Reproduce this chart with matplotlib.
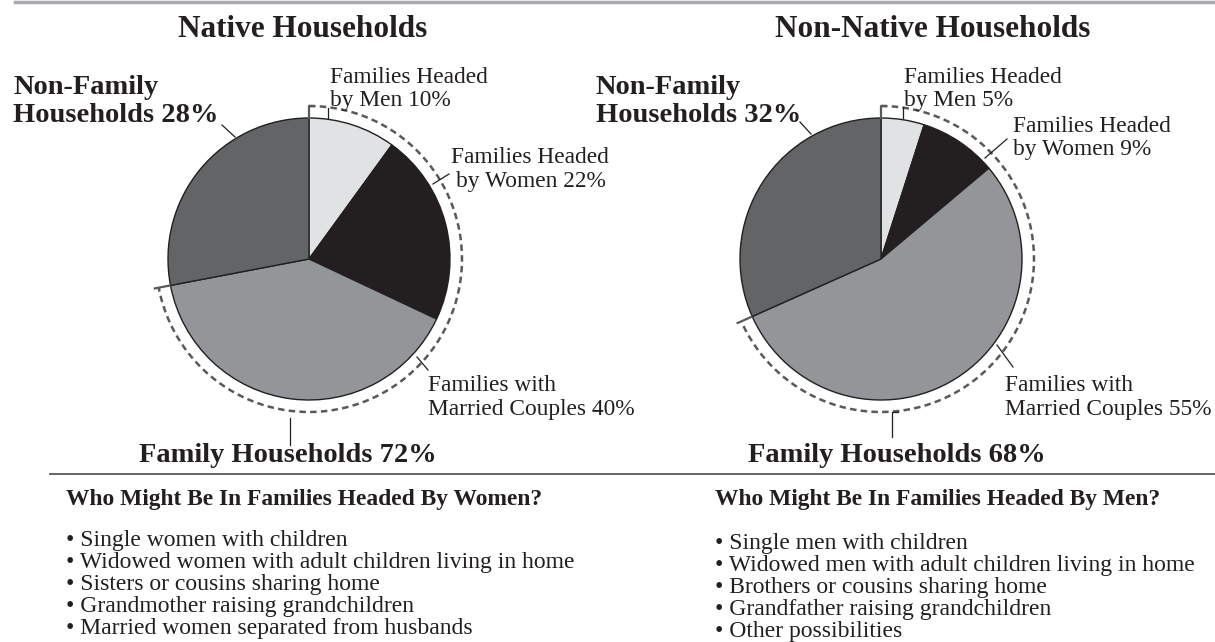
import matplotlib
matplotlib.use("Agg")
from matplotlib import pyplot as plt
import numpy as np

plt.rcParams["font.family"] = ["Liberation Serif", "DejaVu Serif"]

# data
slices = ["Families Headed by Men", "Families Headed by Women",
          "Families with Married Couples", "Non-Family Households"]
native = [10, 22, 40, 28]
non_native = [5, 9, 55, 32]
native_family = 72
non_native_family = 68

women_list = ["Single women with children",
              "Widowed women with adult children living in home",
              "Sisters or cousins sharing home",
              "Grandmother raising grandchildren",
              "Married women separated from husbands"]
men_list = ["Single men with children",
            "Widowed men with adult children living in home",
            "Brothers or cousins sharing home",
            "Grandfather raising grandchildren",
            "Other possibilities"]

# style
W, H = 1215, 642
INK = "#231f20"
ARC = "#58595b"
colors = ["#e1e2e3", "#231f20", "#939598", "#636466"]
R = 141
REG = 16.8   # regular label size
BIG = 20.5   # bold label size

fig = plt.figure(figsize=(W / 100, H / 100), dpi=100)
ax = fig.add_axes([0, 0, 1, 1])


def pie(values, cx, cy):
    # y axis is flipped later, so counterclock in data = clockwise on screen
    ax.pie(values, colors=colors, startangle=270, counterclock=True,
           center=(cx, cy), radius=R,
           wedgeprops=dict(edgecolor=INK, linewidth=1.0))
    fam = sum(values[:3]) / sum(values) * 360
    Ra = R + 12
    a = np.radians(np.linspace(0, fam, 300))
    ax.plot(cx + Ra * np.sin(a), cy - Ra * np.cos(a), color=ARC, lw=1.8,
            dashes=(2.6, 1.7), solid_capstyle="butt")
    # hook at the top
    ax.plot([cx, cx, cx + 5], [cy - R, cy - Ra, cy - Ra], color=ARC, lw=1.6)
    # tick at the end
    e = np.radians(fam)
    ax.plot([cx + (R + 1) * np.sin(e), cx + (Ra + 4) * np.sin(e)],
            [cy - (R + 1) * np.cos(e), cy - (Ra + 4) * np.cos(e)],
            color=ARC, lw=1.6)


def lines_of(x, y0, lines, size, bold=False, dy=23.5, indent=None):
    for i, s in enumerate(lines):
        xx = x + (indent[i] if indent else 0)
        ax.text(xx, y0 + i * dy, s, fontsize=size, color=INK, va="baseline",
                ha="left", fontweight="bold" if bold else "normal")


def leader(xs, ys):
    ax.plot(xs, ys, color=INK, lw=0.9)


pie(native, 309, 259)
pie(non_native, 881, 259)

# top rule and divider
ax.plot([15, W], [2, 2], color="#a7a9ac", lw=2.5)
ax.plot([50, W], [474, 474], color="#58595b", lw=1.3)

# titles
ax.text(303, 37, "Native Households", fontsize=22.5, fontweight="bold",
        color=INK, ha="center", va="baseline")
ax.text(933, 37, "Non-Native Households", fontsize=22.5, fontweight="bold",
        color=INK, ha="center", va="baseline")

# left pie labels
lines_of(13, 94, ["Non-Family", f"Households {native[3]}%"], BIG, bold=True, dy=28)
lines_of(330, 83, ["Families Headed", f"by Men {native[0]}%"], REG, dy=23)
lines_of(451, 163, ["Families Headed", f"by Women {native[1]}%"], REG,
         dy=24, indent=[0, 5])
lines_of(428, 391, ["Families with", f"Married Couples {native[2]}%"], REG)
ax.text(288, 462, f"Family Households {native_family}%", fontsize=BIG,
        fontweight="bold", color=INK, ha="center", va="baseline")

leader([222, 235], [125, 137])
leader([328, 328], [108, 118])
leader([433, 449], [184, 174])
leader([417, 428], [357, 370])
leader([290, 290], [418, 445])

# right pie labels
lines_of(596, 94, ["Non-Family", f"Households {non_native[3]}%"], BIG, bold=True, dy=28)
lines_of(904, 83, ["Families Headed", f"by Men {non_native[0]}%"], REG, dy=23)
lines_of(1013, 132, ["Families Headed", f"by Women {non_native[1]}%"], REG, dy=23)
lines_of(1005, 391, ["Families with", f"Married Couples {non_native[2]}%"], REG)
ax.text(897, 462, f"Family Households {non_native_family}%", fontsize=BIG,
        fontweight="bold", color=INK, ha="center", va="baseline")

leader([800, 811], [122, 134])
leader([903, 903], [107, 118])
leader([985, 1007], [158, 139])
leader([997, 1013], [345, 367])
leader([892, 892, 898], [437, 412, 412])

# bottom lists
lines_of(66, 505, ["Who Might Be In Families Headed By Women?"], 16.9, bold=True)
lines_of(66, 546, ["\u2022 " + s for s in women_list], 17, dy=22)
lines_of(715, 505, ["Who Might Be In Families Headed By Men?"], 16.9, bold=True)
lines_of(715, 549, ["\u2022 " + s for s in men_list], 17, dy=22)

ax.set_xlim(0, W)
ax.set_ylim(H, 0)
ax.set_aspect("equal")
ax.axis("off")

fig.savefig("out.png", dpi=100, facecolor="white")
